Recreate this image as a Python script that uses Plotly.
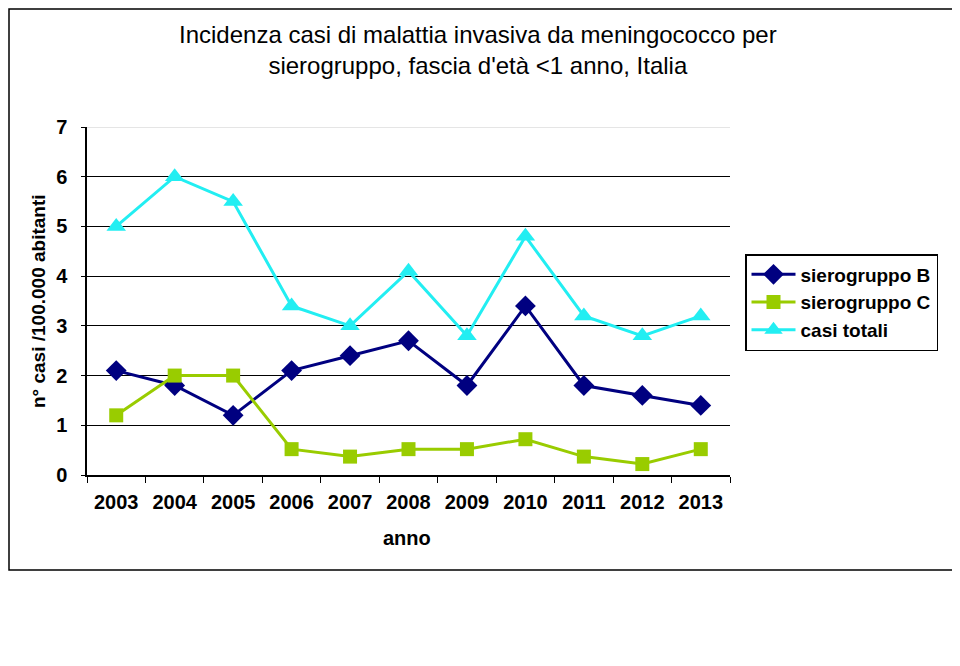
import plotly.graph_objects as go

anni = ["2003", "2004", "2005", "2006", "2007", "2008", "2009", "2010", "2011", "2012", "2013"]
siero_b = [2.1, 1.8, 1.2, 2.1, 2.4, 2.7, 1.8, 3.4, 1.8, 1.6, 1.4]
siero_c = [1.2, 2.0, 2.0, 0.52, 0.37, 0.52, 0.52, 0.72, 0.37, 0.22, 0.52]
casi_totali = [5.0, 6.0, 5.5, 3.4, 3.0, 4.1, 2.8, 4.8, 3.2, 2.8, 3.2]
y_ticks = [0, 1, 2, 3, 4, 5, 6, 7]

OFF = 8  # page body margin
W, H = 960, 666
L, T = 87 - OFF, 127 - OFF
R = W - (730 - OFF)
B = H - (475 - OFF)
pw, ph = W - L - R, H - T - B

def px(x):
    return (x - OFF - L) / pw

def py(y):
    return (H - B - (y - OFF)) / ph

fig = go.Figure()
fig.add_trace(go.Scatter(x=anni, y=siero_b, name="sierogruppo B", mode="lines+markers",
                         line=dict(color="#000080", width=3),
                         marker=dict(symbol="diamond", size=16, color="#000080")))
fig.add_trace(go.Scatter(x=anni, y=siero_c, name="sierogruppo C", mode="lines+markers",
                         line=dict(color="#99CC00", width=3),
                         marker=dict(symbol="square", size=14, color="#99CC00")))
fig.add_trace(go.Scatter(x=anni, y=casi_totali, name="casi totali", mode="lines+markers",
                         line=dict(color="#22EEF2", width=3),
                         marker=dict(symbol="triangle-up", size=17, color="#22EEF2")))

FAM = "Liberation Sans, Arial, sans-serif"
font_tick = dict(family=FAM, size=20, color="black", weight="bold")

fig.update_layout(
    width=W, height=H,
    margin=dict(l=L, r=R, t=T, b=B, pad=0),
    paper_bgcolor="white", plot_bgcolor="white",
    showlegend=True,
    legend=dict(x=px(745), y=py(254), xanchor="left", yanchor="top",
                bordercolor="black", borderwidth=1.5, bgcolor="white",
                font=dict(family=FAM, size=19, color="black", weight="bold"),
                itemwidth=44, tracegroupgap=0),
    xaxis=dict(type="category", range=[-0.5, 10.5], showgrid=False,
               showline=True, linecolor="black", linewidth=1.5,
               ticks="outside", tickcolor="black", ticklen=6, tickwidth=1,
               tickson="boundaries", tickfont=font_tick, ticklabelstandoff=8),
    yaxis=dict(range=[0, 7], tickvals=y_ticks, showgrid=True, gridcolor="black", gridwidth=1.3,
               showline=True, linecolor="black", linewidth=1.5, zeroline=False,
               ticks="outside", tickcolor="black", ticklen=4,
               tickfont=font_tick, ticklabelstandoff=10),
    font=dict(family=FAM, color="black"),
)

# light top gridline at 7
fig.add_shape(type="line", xref="paper", yref="y", x0=0, x1=1, y0=7, y1=7,
              line=dict(color="#dddddd", width=1.5))

# outer border
fig.add_shape(type="rect", xref="paper", yref="paper",
              x0=px(9), x1=px(955), y0=py(570), y1=py(9),
              line=dict(color="black", width=1.5), layer="below")

fig.add_annotation(text="Incidenza casi di malattia invasiva da meningococco per<br>sierogruppo, fascia d'età <1 anno, Italia",
                   xref="paper", yref="paper", x=px(478), y=py(50), xanchor="center", yanchor="middle",
                   showarrow=False, align="center",
                   font=dict(family="Liberation Sans Narrow, Arial Narrow, Liberation Sans, sans-serif", size=24, color="black"))

fig.add_annotation(text="anno", xref="paper", yref="paper", x=px(407), y=py(538),
                   xanchor="center", yanchor="middle", showarrow=False,
                   font=dict(family=FAM, size=20, color="black", weight="bold"))

fig.add_annotation(text="n° casi /100.000 abitanti", xref="paper", yref="paper", x=px(38), y=py(301),
                   xanchor="center", yanchor="middle", showarrow=False, textangle=-90,
                   font=dict(family=FAM, size=19, color="black", weight="bold"))

fig.write_html("out.html")
